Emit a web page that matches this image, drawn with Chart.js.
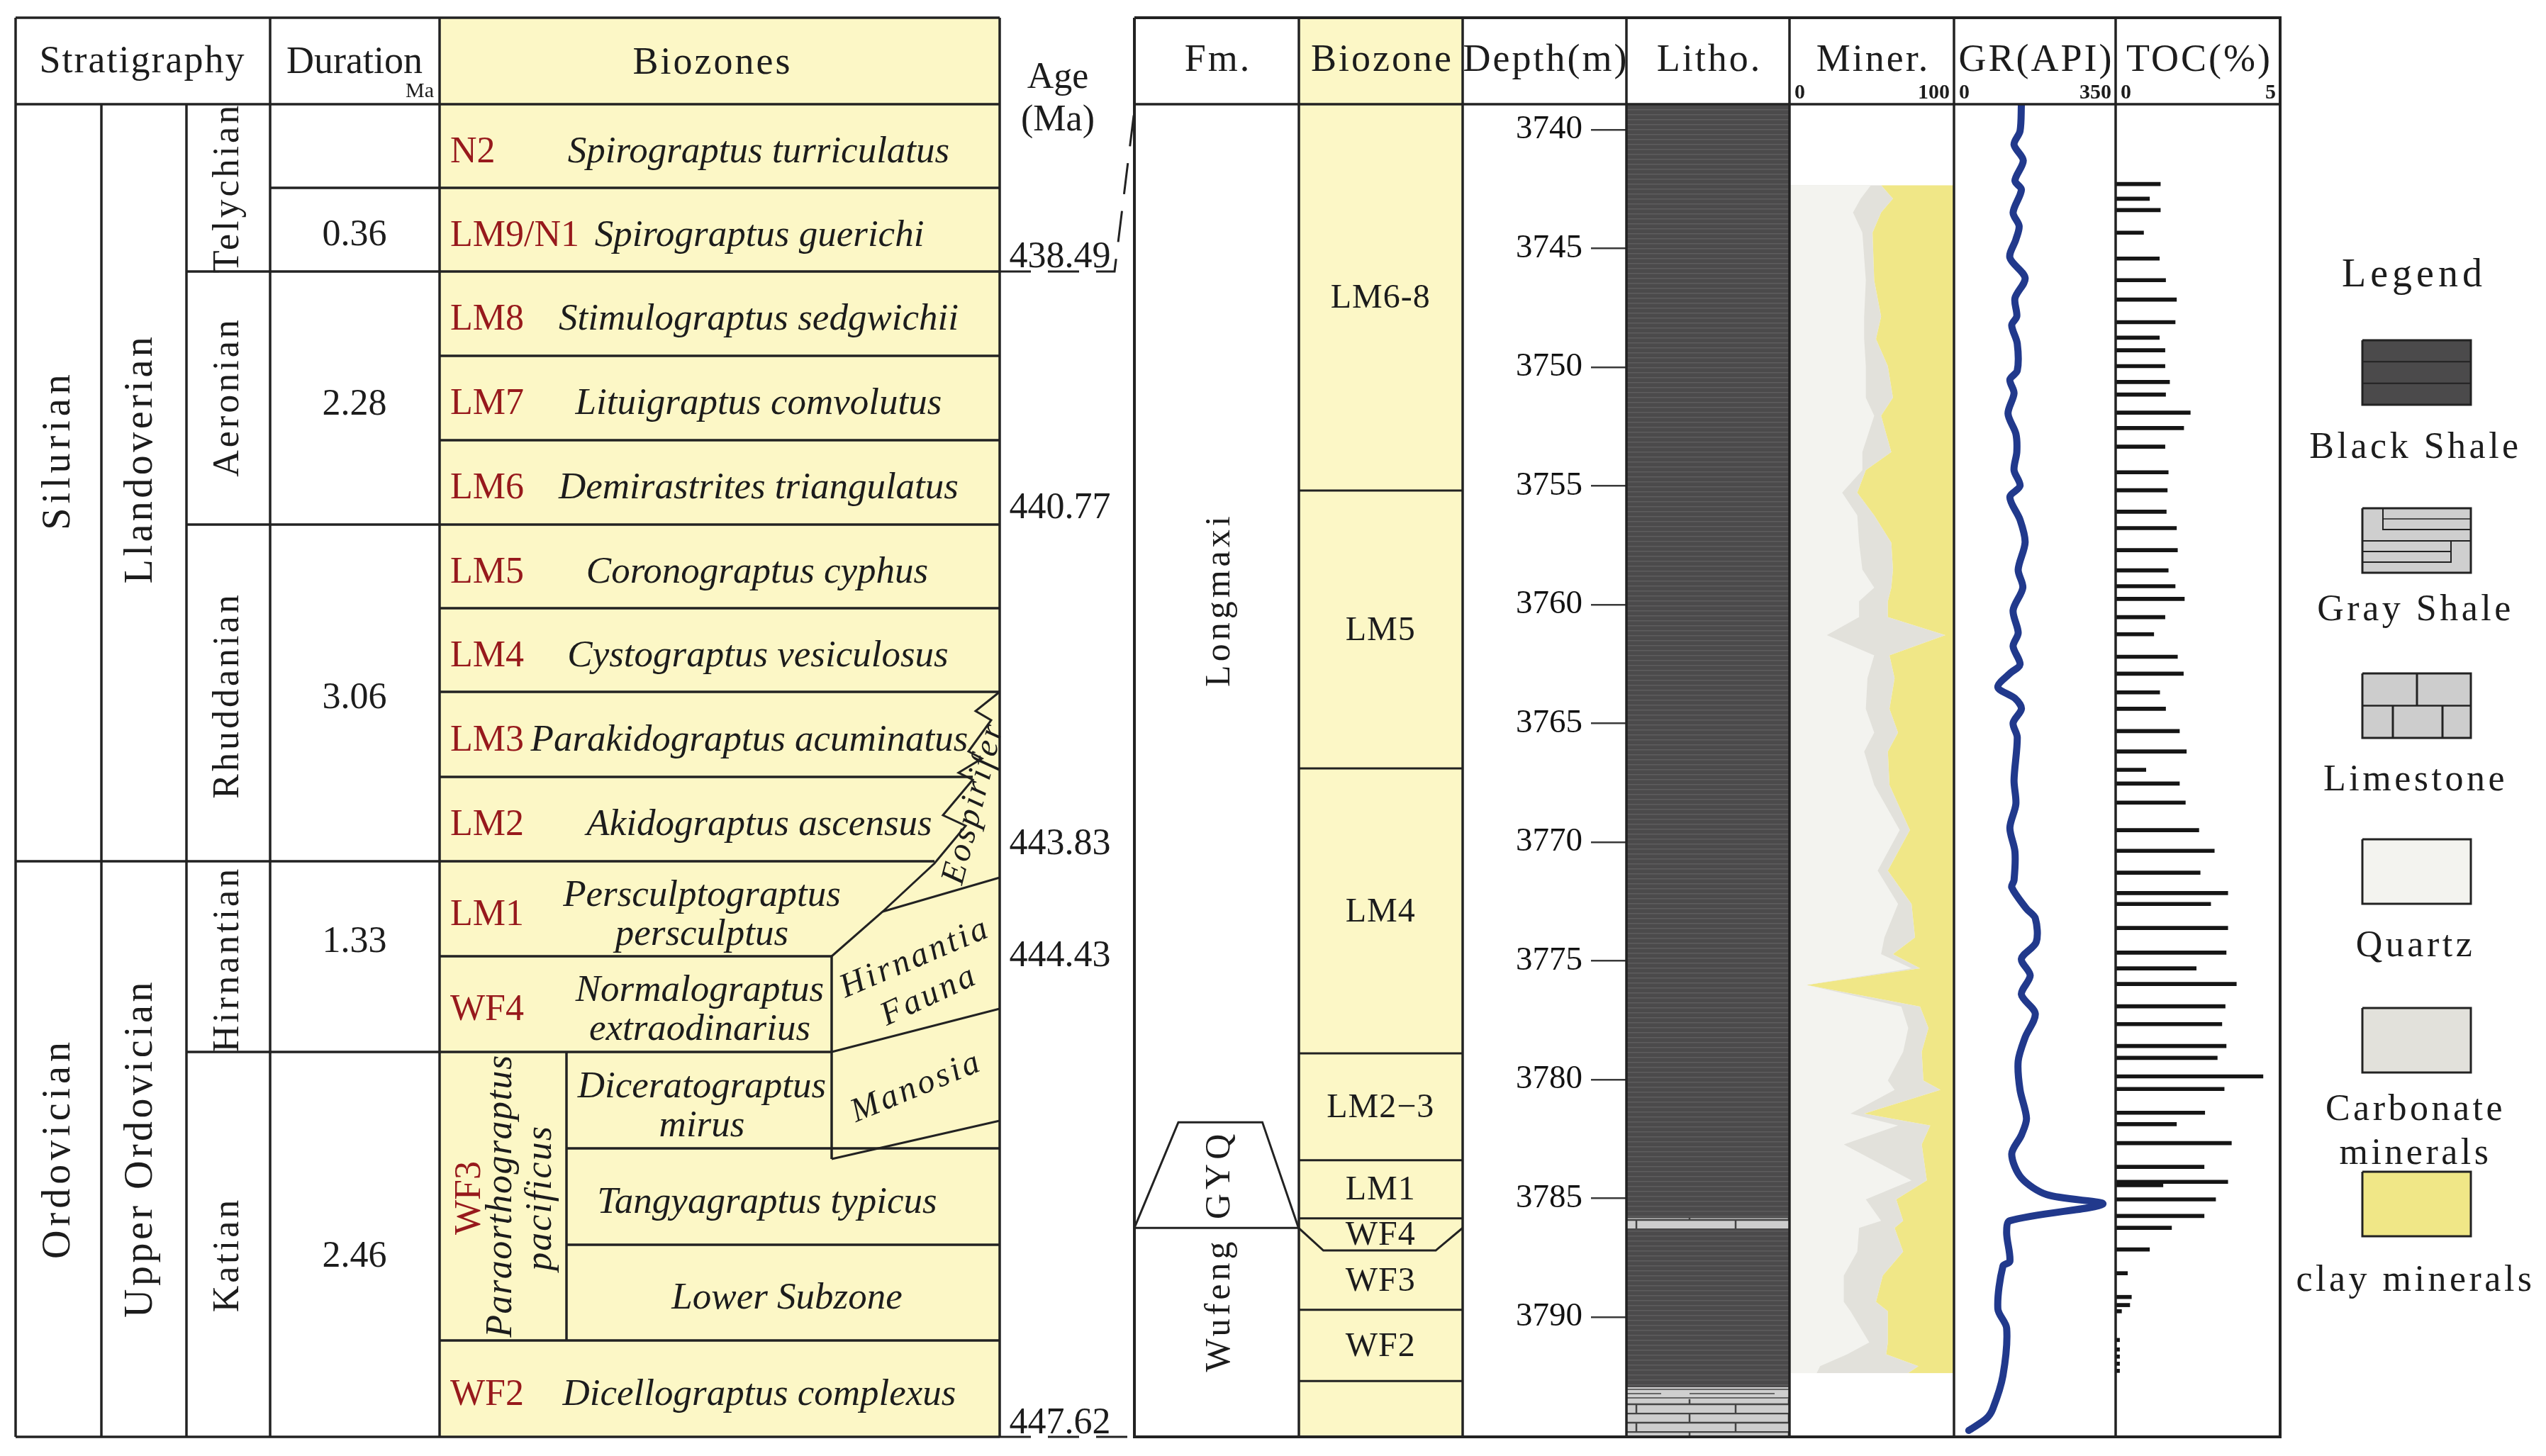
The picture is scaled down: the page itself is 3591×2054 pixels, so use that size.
<!DOCTYPE html>
<html>
<head>
<meta charset="utf-8">
<script src="https://cdn.jsdelivr.net/npm/chart.js@4.4.1/dist/chart.umd.min.js"></script>
<style>
html, body { margin: 0; padding: 0; background: #fff; }
#page { position: relative; width: 3591px; height: 2054px; overflow: hidden; }
canvas { position: absolute; }
</style>
</head>
<body>
<div id="page">
  <canvas id="bg" width="3591" height="2054" style="left:0;top:0"></canvas>
  <canvas id="zoneChart" width="463" height="1880" style="left:1600px;top:147px"></canvas>
  <canvas id="lithoChart" width="461" height="1880" style="left:2063px;top:147px"></canvas>
  <canvas id="minerChart" width="232" height="1880" style="left:2524px;top:147px"></canvas>
  <canvas id="grChart" width="228" height="1880" style="left:2756px;top:147px"></canvas>
  <canvas id="tocChart" width="232" height="1880" style="left:2984px;top:147px"></canvas>
  <canvas id="fg" width="3591" height="2054" style="left:0;top:0;pointer-events:none"></canvas>
</div>
<script>
// ---------- chronostratigraphy table (left) ----------
const systemNames = ['Silurian', 'Ordovician'];
const seriesNames = ['Llandoverian', 'Upper Ordovician'];
const stageNames = ['Telychian', 'Aeronian', 'Rhuddanian', 'Hirnantian', 'Katian'];
const durationLabels = ['0.36', '2.28', '3.06', '1.33', '2.46'];
const zoneCodes = ['N2', 'LM9/N1', 'LM8', 'LM7', 'LM6', 'LM5', 'LM4', 'LM3', 'LM2', 'LM1', 'WF4', '', '', '', 'WF2'];
const zoneTaxa = [
    ['Spirograptus turriculatus'], ['Spirograptus guerichi'], ['Stimulograptus sedgwichii'],
    ['Lituigraptus comvolutus'], ['Demirastrites triangulatus'], ['Coronograptus cyphus'],
    ['Cystograptus vesiculosus'], ['Parakidograptus acuminatus'], ['Akidograptus ascensus'],
    ['Persculptograptus', 'persculptus'], ['Normalograptus', 'extraodinarius'],
    ['Diceratograptus', 'mirus'], ['Tangyagraptus typicus'], ['Lower Subzone'],
    ['Dicellograptus complexus']
];
const wf3Labels = ['WF3', 'Paraorthograptus', 'pacificus'];
const ageLabels = ['438.49', '440.77', '443.83', '444.43', '447.62'];
const faunaNames = ['Eospirifer', 'Hirnantia', 'Fauna', 'Manosia'];

// ---------- well section (right) ----------
const depthMin = 3738.93, depthMax = 3795.05;
const depthTicks = [3740, 3745, 3750, 3755, 3760, 3765, 3770, 3775, 3780, 3785, 3790];

const fmNames = ['Longmaxi', 'Wufeng'];
const fmTop = [3738.93, 3786.25];
const fmBase = [3786.25, 3795.05];
const fmLabelDepth = [3759.8, 3789.5];
const gyqTop = 3781.8;
const gyqLabelDepth = 3784.0;

const bzNames = ['LM6-8', 'LM5', 'LM4', 'LM2\u22123', 'LM1', 'WF4', 'WF3', 'WF2', ''];
const bzTop = [3738.93, 3755.2, 3766.9, 3778.9, 3783.4, 3785.85, 3787.2, 3789.7, 3792.7];
const bzBase = [3755.2, 3766.9, 3778.9, 3783.4, 3785.85, 3787.2, 3789.7, 3792.7, 3795.05];

const lithoType = ['Black Shale', 'Limestone', 'Black Shale', 'Gray Shale', 'Limestone'];
const lithoTop = [3738.93, 3785.85, 3786.3, 3792.97, 3793.47];
const lithoBase = [3785.85, 3786.3, 3792.97, 3793.47, 3795.05];

// mineral composition (%), quartz + carbonate + clay = 100
const minerDepth = [3742.34, 3742.91, 3743.49, 3744.34, 3746.34, 3747.87, 3748.82, 3749.96, 3751.29, 3752.05,
    3753.58, 3754.34, 3755.29, 3756.24, 3757.39, 3758.53, 3759.29, 3759.86, 3760.53, 3761.29,
    3762.14, 3763.10, 3764.39, 3765.39, 3766.19, 3767.60, 3769.50, 3771.21, 3772.61, 3774.02,
    3774.72, 3775.32, 3776.02, 3776.93, 3777.83, 3778.83, 3780.04, 3780.44, 3781.44, 3781.94,
    3782.74, 3784.25, 3785.05, 3785.95, 3786.25, 3787.25, 3788.26, 3789.36, 3789.76, 3791.07,
    3791.57, 3792.07, 3792.37];
const quartzPct = [49.5, 43.3, 38.6, 44.3, 46.4, 45.4, 45.4, 46.4, 46.4, 51.5,
    44.3, 44.3, 32.0, 41.2, 42.3, 44.3, 51.5, 42.3, 42.3, 22.7,
    51.5, 47.4, 46.4, 51.5, 45.4, 51.5, 67.0, 53.6, 66.0, 57.7,
    55.7, 74.2, 10.3, 68.0, 72.2, 69.1, 59.8, 63.9, 37.1, 66.0,
    33.0, 74.2, 46.4, 55.7, 42.3, 41.2, 33.0, 33.0, 37.1, 48.5,
    35.1, 18.6, 16.5];
const carbonatePct = [6.2, 19.6, 17.1, 6.2, 5.1, 10.3, 7.2, 13.4, 16.5, 4.2,
    17.6, 2.1, 9.2, 10.3, 19.6, 18.6, 10.4, 17.5, 17.5, 72.1,
    9.3, 16.5, 14.4, 14.5, 14.4, 9.3, 6.2, 6.2, 8.2, 18.6,
    7.2, 5.2, 0.0, 11.4, 12.3, 11.3, 21.6, 27.9, 8.3, 19.6,
    47.4, 9.3, 18.5, 13.4, 21.6, 27.9, 23.7, 19.6, 22.7, 11.3,
    23.7, 59.8, 55.5];
const clayPct = [44.3, 37.1, 44.3, 49.5, 48.5, 44.3, 47.4, 40.2, 37.1, 44.3,
    38.1, 53.6, 58.8, 48.5, 38.1, 37.1, 38.1, 40.2, 40.2, 5.2,
    39.2, 36.1, 39.2, 34.0, 40.2, 39.2, 26.8, 40.2, 25.8, 23.7,
    37.1, 20.6, 89.7, 20.6, 15.5, 19.6, 18.6, 8.2, 54.6, 14.4,
    19.6, 16.5, 35.1, 30.9, 36.1, 30.9, 43.3, 47.4, 40.2, 40.2,
    41.2, 21.6, 28.0];

// gamma ray (API)
const grDepth = [3738.92, 3740.06, 3740.63, 3741.30, 3742.15, 3742.53, 3743.49, 3744.06, 3744.63, 3745.39,
    3746.25, 3747.10, 3747.86, 3748.24, 3749.01, 3750.15, 3750.53, 3751.10, 3751.96, 3752.81,
    3753.58, 3754.34, 3755.00, 3755.48, 3756.43, 3757.38, 3758.53, 3759.29, 3760.24, 3761.19,
    3761.76, 3762.52, 3762.90, 3763.48, 3763.95, 3764.39, 3764.99, 3765.59, 3767.40, 3768.40,
    3769.40, 3770.41, 3771.61, 3771.91, 3772.81, 3773.21, 3774.22, 3774.92, 3775.62, 3776.42,
    3777.23, 3778.23, 3779.23, 3780.44, 3781.64, 3782.34, 3783.14, 3784.15, 3784.85, 3785.25,
    3785.95, 3786.45, 3787.66, 3787.86, 3789.66, 3790.47, 3792.47, 3793.87, 3794.28, 3794.78];
const grValue = [146, 143, 130, 150, 132, 146, 128, 141, 134, 121,
    154, 132, 136, 125, 137, 137, 121, 130, 117, 134,
    136, 130, 143, 121, 143, 154, 139, 149, 128, 139,
    128, 143, 121, 95, 132, 146, 128, 137, 130, 134,
    121, 132, 130, 125, 157, 176, 178, 146, 165, 146,
    176, 154, 139, 143, 157, 146, 125, 146, 201, 322,
    121, 114, 121, 106, 95, 114, 106, 84, 70, 32];

// total organic carbon (%)
const tocDepth = [3742.29, 3742.91, 3743.39, 3744.34, 3745.43, 3746.34, 3747.16, 3748.11, 3748.76, 3749.29,
    3749.96, 3750.63, 3751.16, 3751.92, 3752.57, 3753.35, 3754.43, 3755.19, 3756.09, 3756.78,
    3757.71, 3758.56, 3759.23, 3759.76, 3760.53, 3761.25, 3762.20, 3762.91, 3763.70, 3764.39,
    3765.33, 3766.19, 3766.96, 3767.54, 3768.34, 3769.50, 3770.37, 3771.29, 3772.15, 3772.61,
    3773.62, 3774.66, 3775.32, 3775.98, 3776.92, 3777.67, 3778.59, 3779.09, 3779.87, 3780.40,
    3781.40, 3781.88, 3782.68, 3783.68, 3784.31, 3784.45, 3785.05, 3785.75, 3786.25, 3787.16,
    3788.16, 3789.16, 3789.50, 3789.76, 3790.97, 3791.37, 3791.67, 3791.97, 3792.27];
const tocValue = [1.36, 1.03, 1.36, 0.85, 1.33, 1.52, 1.85, 1.81, 1.33, 1.50,
    1.50, 1.64, 1.52, 2.27, 2.07, 1.50, 1.60, 1.57, 1.54, 1.85,
    1.88, 1.60, 1.81, 2.09, 1.50, 1.16, 1.88, 2.06, 1.34, 1.52,
    1.94, 2.15, 0.92, 1.94, 2.12, 2.53, 3.00, 2.57, 3.41, 2.89,
    3.41, 3.36, 2.45, 3.67, 3.33, 3.23, 3.36, 3.09, 4.48, 3.30,
    2.71, 1.85, 3.52, 2.69, 3.41, 1.44, 3.04, 2.69, 1.70, 1.03,
    0.36, 0.48, 0.43, 0.18, 0.12, 0.12, 0.12, 0.12, 0.12];

const legendNames = ['Black Shale', 'Gray Shale', 'Limestone', 'Quartz', 'Carbonate\nminerals', 'clay minerals'];

// ---------- colours ----------
const SERIF = '"Liberation Serif", "Times New Roman", serif';
const INK = '#1c1c1c';
const LINE = '#222222';
const ZONE_YELLOW = '#FCF7C6';
const CODE_RED = '#97191C';
const QUARTZ = '#F3F3EF';
const CARBONATE = '#E2E1DB';
const CLAY = '#F0E787';
const GR_BLUE = '#21398C';

Chart.defaults.font.family = SERIF;

// Function to write a (possibly rotated) label
function label(ctx, str, x, y, opt) {
    ctx.save();
    ctx.font = (opt.style || 'normal') + ' ' + opt.size + 'px ' + SERIF;
    ctx.fillStyle = opt.color || INK;
    ctx.textAlign = opt.align || 'center';
    ctx.textBaseline = 'middle';
    ctx.letterSpacing = (opt.spacing || 0) + 'px';
    ctx.translate(x, y);
    if (opt.rot) ctx.rotate(opt.rot * Math.PI / 180);
    ctx.fillText(str, 0, 0);
    ctx.restore();
}

function polyline(ctx, pts, width, dash) {
    ctx.save();
    ctx.strokeStyle = LINE;
    ctx.lineWidth = width || 3.5;
    ctx.lineJoin = 'miter';
    if (dash) ctx.setLineDash(dash);
    ctx.beginPath();
    pts.forEach((p, i) => i ? ctx.lineTo(p[0], p[1]) : ctx.moveTo(p[0], p[1]));
    ctx.stroke();
    ctx.restore();
}

// Function to build the lithology fill patterns
function lithoPattern(target, kind) {
    const c = document.createElement('canvas');
    const g = c.getContext('2d');
    if (kind === 'Black Shale') {
        c.width = 20; c.height = 7;
        g.fillStyle = '#4b4a4b'; g.fillRect(0, 0, 20, 7);
        g.fillStyle = '#5e5d5e'; g.fillRect(0, 0, 20, 1.5);
    } else if (kind === 'Gray Shale') {
        c.width = 160; c.height = 12;
        g.fillStyle = '#cfcfcf'; g.fillRect(0, 0, 160, 12);
        g.strokeStyle = '#444'; g.lineWidth = 1.5;
        g.beginPath();
        g.moveTo(0, 1); g.lineTo(160, 1);
        g.moveTo(0, 7); g.lineTo(120, 7);
        g.stroke();
    } else {
        c.width = 140; c.height = 26;
        g.fillStyle = '#cdcdcd'; g.fillRect(0, 0, 140, 26);
        g.strokeStyle = '#444'; g.lineWidth = 2.5;
        g.beginPath();
        g.moveTo(0, 1); g.lineTo(140, 1);
        g.moveTo(0, 14); g.lineTo(140, 14);
        g.moveTo(40, 1); g.lineTo(40, 14);
        g.moveTo(105, 14); g.lineTo(105, 26);
        g.stroke();
    }
    return target.createPattern(c, 'repeat');
}

// ---------- static frame: left table, headers, legend ----------
const bg = document.getElementById('bg').getContext('2d');
const fg = document.getElementById('fg').getContext('2d');

const T = { left: 22, top: 25, head: 147, bottom: 2027, xSeries: 143, xStage: 263, xDur: 381,
    xBio: 620, xWF3: 799, xFauna: 1173, right: 1410 };
const rowEdges = [147, 265, 383, 502, 621, 740, 858, 976, 1096, 1215, 1349, 1484, 1620, 1756, 1891, 2027];
const R = { left: 1600, right: 3216, cols: [1832, 2063, 2294, 2524, 2756, 2984] };

function drawFrame() {
    bg.fillStyle = '#fff';
    bg.fillRect(0, 0, 3591, 2054);
    // yellow biozone columns
    bg.fillStyle = ZONE_YELLOW;
    bg.fillRect(T.xBio, T.top, T.right - T.xBio, T.bottom - T.top);
    bg.fillRect(R.cols[0], T.top, R.cols[1] - R.cols[0], T.head - T.top);

    // headers
    label(bg, 'Stratigraphy', 201, 88, { size: 54, spacing: 2 });
    label(bg, 'Duration', 500, 89, { size: 54 });
    label(bg, 'Ma', 612, 129, { size: 30, align: 'right' });
    label(bg, 'Biozones', 1005, 90, { size: 54, spacing: 3 });
    label(bg, 'Age', 1492, 110, { size: 52 });
    label(bg, '(Ma)', 1492, 170, { size: 52 });

    const rHead = ['Fm.', 'Biozone', 'Depth(m)', 'Litho.', 'Miner.', 'GR(API)', 'TOC(%)'];
    const edges = [R.left].concat(R.cols, [R.right]);
    rHead.forEach((h, i) => {
        label(bg, h, (edges[i] + edges[i + 1]) / 2 + 2, 86, { size: 54, spacing: 3 });
    });
    const scaleEnds = [['0', '100'], ['0', '350'], ['0', '5']];
    scaleEnds.forEach((s, i) => {
        const l = edges[i + 4], r = edges[i + 5];
        label(bg, s[0], l + 7, 131, { size: 30, style: 'bold', align: 'left' });
        label(bg, s[1], r - 6, 131, { size: 30, style: 'bold', align: 'right' });
    });

    // stratigraphic units (rotated, reading upwards)
    [635, 1620].forEach((y, i) => label(bg, systemNames[i], 83, y, { size: 56, spacing: 6, rot: -90 }));
    [647, 1620].forEach((y, i) => label(bg, seriesNames[i], 199, y, { size: 56, spacing: 4.5, rot: -90 }));
    [265, 560, 981, 1353, 1770].forEach((y, i) => label(bg, stageNames[i], 322, y, { size: 52, spacing: 4, rot: -90 }));
    [332, 571, 985, 1329, 1773].forEach((y, i) => label(bg, durationLabels[i], 500, y, { size: 52 }));
    [363, 717, 1191, 1349, 2008].forEach((y, i) => label(bg, ageLabels[i], 1495, y, { size: 52 }));

    // graptolite biozones
    const taxaX = [1070, 1071, 1070, 1070, 1070, 1068, 1069, 1057, 1071, 990, 987, 990, 1082, 1110, 1071];
    zoneTaxa.forEach((lines, i) => {
        const yc = (rowEdges[i] + rowEdges[i + 1]) / 2 + 9;
        if (zoneCodes[i]) label(bg, zoneCodes[i], 635, yc, { size: 52, color: CODE_RED, align: 'left' });
        if (lines.length === 1) {
            label(bg, lines[0], taxaX[i], yc, { size: 53, style: 'italic' });
        } else {
            label(bg, lines[0], taxaX[i], yc - 27, { size: 53, style: 'italic' });
            label(bg, lines[1], taxaX[i], yc + 28, { size: 53, style: 'italic' });
        }
    });
    label(bg, wf3Labels[0], 663, 1690, { size: 52, color: CODE_RED, rot: -90 });
    label(bg, wf3Labels[1], 707, 1687, { size: 52, style: 'italic', spacing: 1.5, rot: -90 });
    label(bg, wf3Labels[2], 763, 1690, { size: 52, style: 'italic', spacing: 2, rot: -90 });

    // brachiopod faunas
    label(bg, faunaNames[0], 1374, 1133, { size: 48, style: 'italic', spacing: 4, rot: -75.5 });
    label(bg, faunaNames[1], 1291, 1352, { size: 48, style: 'italic', spacing: 4, rot: -23 });
    label(bg, faunaNames[2], 1311, 1405, { size: 48, style: 'italic', spacing: 4, rot: -25 });
    label(bg, faunaNames[3], 1293, 1534, { size: 48, style: 'italic', spacing: 4, rot: -22.5 });

    // table lines
    const hLines = [[T.top, T.left, T.right], [T.head, T.left, T.right], [T.bottom, T.left, T.right],
        [265, T.xDur, T.right], [383, T.xStage, T.right], [502, T.xBio, T.right], [621, T.xBio, T.right],
        [740, T.xStage, T.right], [858, T.xBio, T.right], [976, T.xBio, T.right], [1096, T.xBio, 1372],
        [1215, T.left, 1318], [1349, T.xBio, T.xFauna], [1484, T.xStage, T.xFauna],
        [1620, T.xWF3, T.right], [1756, T.xWF3, T.right], [1891, T.xBio, T.right]];
    hLines.forEach(h => polyline(fg, [[h[1], h[0]], [h[2], h[0]]]));
    const vLines = [[T.left, T.top, T.bottom], [T.xSeries, T.head, T.bottom], [T.xStage, T.head, T.bottom],
        [T.xDur, T.top, T.bottom], [T.xBio, T.top, T.bottom], [T.right, T.top, T.bottom],
        [T.xWF3, 1484, 1891], [T.xFauna, 1349, 1635]];
    vLines.forEach(v => polyline(fg, [[v[0], v[1]], [v[0], v[2]]]));
    // fauna boundaries
    polyline(fg, [[1410, 976], [1376, 1003], [1398, 1016], [1366, 1060], [1385, 1070], [1352, 1090],
        [1372, 1100], [1330, 1150], [1362, 1165], [1318, 1218], [1245, 1286], [1173, 1349]], 3);
    polyline(fg, [[1245, 1286], [1410, 1238]], 3);
    polyline(fg, [[1173, 1484], [1410, 1423]], 3);
    polyline(fg, [[1173, 1635], [1410, 1581]], 3);
    // age tie lines
    polyline(fg, [[1410, 383], [1572, 383], [1601, 147]], 3, [44, 24]);
    polyline(fg, [[1410, 2027], [1600, 2027]], 3, [44, 24]);

    // right panel frame
    polyline(fg, [[R.left, T.top], [R.right, T.top], [R.right, T.bottom], [R.left, T.bottom], [R.left, T.top]], 4);
    polyline(fg, [[R.left, T.head], [R.right, T.head]]);
    R.cols.forEach(x => polyline(fg, [[x, T.top], [x, T.bottom]]));

    // legend
    label(bg, 'Legend', 3405, 389, { size: 56, spacing: 6 });
    const swY = [480, 717, 950, 1184, 1422, 1653];
    const txtY = [632, 861, 1101, 1335, 1566, 1807];
    const swX = 3332, swW = 153, swH = 91;
    legendNames.forEach((name, i) => {
        const y = swY[i];
        const g = bg;
        g.save();
        if (i === 0) {
            g.fillStyle = '#4b4a4b'; g.fillRect(swX, y, swW, swH);
            polyline(g, [[swX, y + swH / 3], [swX + swW, y + swH / 3]], 2);
            polyline(g, [[swX, y + 2 * swH / 3], [swX + swW, y + 2 * swH / 3]], 2);
        } else if (i === 1) {
            g.fillStyle = '#cfcfcf'; g.fillRect(swX, y, swW, swH);
            polyline(g, [[swX + 29, y], [swX + 29, y + 30], [swX + swW, y + 30]], 2);
            polyline(g, [[swX + 29, y + 15], [swX + swW, y + 15]], 1.5);
            polyline(g, [[swX, y + 46], [swX + swW, y + 46]], 2);
            polyline(g, [[swX, y + 61], [swX + 125, y + 61], [swX + 125, y + 46]], 2);
            polyline(g, [[swX, y + 76], [swX + 125, y + 76], [swX + 125, y + 61]], 2);
        } else if (i === 2) {
            g.fillStyle = '#cdcdcd'; g.fillRect(swX, y, swW, swH);
            polyline(g, [[swX, y + swH / 2], [swX + swW, y + swH / 2]], 2.5);
            polyline(g, [[swX + 77, y], [swX + 77, y + swH / 2]], 3);
            polyline(g, [[swX + 43, y + swH / 2], [swX + 43, y + swH]], 3);
            polyline(g, [[swX + 113, y + swH / 2], [swX + 113, y + swH]], 3);
        } else {
            g.fillStyle = [QUARTZ, CARBONATE, CLAY][i - 3];
            g.fillRect(swX, y, swW, swH);
        }
        g.restore();
        polyline(g, [[swX, y], [swX + swW, y], [swX + swW, y + swH], [swX, y + swH], [swX, y]], 3);
        const parts = name.split('\n');
        parts.forEach((p, k) => label(bg, p, 3407, txtY[i] + k * 62, { size: 52, spacing: 4.5 }));
    });
}
drawFrame();

// ---------- charts sharing the depth axis ----------
function depthAxis() {
    return { type: 'linear', reverse: true, min: depthMin, max: depthMax, display: false,
        offset: false, grid: { offset: false } };
}
function baseOptions() {
    return {
        responsive: false, animation: false, devicePixelRatio: 1,
        layout: { padding: 0 },
        plugins: { legend: { display: false }, tooltip: { enabled: false } }
    };
}

// Fm. and Biozone columns, boundaries and labels drawn over the bars
const zonePlugin = {
    id: 'zoneMarks',
    afterDatasetsDraw(chart) {
        const ctx = chart.ctx, ys = chart.scales.y, xs = chart.scales.x;
        const colW = xs.width / 2;
        const fL = xs.left, fR = xs.left + colW, bL = fR, bR = xs.right;
        const yPx = d => ys.getPixelForValue(d);
        // Fm boundary and GYQ member
        polyline(ctx, [[fL, yPx(fmTop[1])], [fR, yPx(fmTop[1])]], 3);
        polyline(ctx, [[fL, yPx(fmTop[1])], [fL + 62, yPx(gyqTop)], [fR - 51, yPx(gyqTop)], [fR, yPx(fmTop[1])]], 3);
        fmNames.forEach((n, i) => label(ctx, n, (fL + fR) / 2 + 5, yPx(fmLabelDepth[i]), { size: 50, spacing: 5, rot: -90 }));
        label(ctx, 'GYQ', (fL + fR) / 2 + 5, yPx(gyqLabelDepth), { size: 50, spacing: 6, rot: -90 });
        // biozone boundaries
        for (let i = 1; i < bzNames.length; i++) {
            const y = yPx(bzTop[i]);
            if (bzNames[i] === 'WF3') {
                const ys0 = yPx(fmTop[1]);
                polyline(ctx, [[bL, ys0], [bL + 35, y], [bR - 38, y], [bR, ys0]], 3);
            } else {
                polyline(ctx, [[bL, y], [bR, y]], 3);
            }
        }
        bzNames.forEach((n, i) => {
            if (n) label(ctx, n, (bL + bR) / 2, yPx((bzTop[i] + bzBase[i]) / 2) + 2, { size: 48, spacing: 1 });
        });
    }
};

new Chart(document.getElementById('zoneChart'), {
    type: 'bar',
    data: {
        labels: ['Fm', 'Biozone'],
        datasets: [
            { data: fmNames.map((n, i) => ({ x: 'Fm', y: [fmTop[i], fmBase[i]] })), backgroundColor: '#ffffff' },
            { data: bzNames.map((n, i) => ({ x: 'Biozone', y: [bzTop[i], bzBase[i]] })), backgroundColor: ZONE_YELLOW }
        ]
    },
    options: Object.assign(baseOptions(), {
        datasets: { bar: { barPercentage: 1, categoryPercentage: 1, grouped: false, borderWidth: 0 } },
        scales: { x: { display: false }, y: depthAxis() }
    }),
    plugins: [zonePlugin]
});

// lithology column with the depth axis
const lithoCanvas = document.getElementById('lithoChart');
const lithoCtx = lithoCanvas.getContext('2d');
new Chart(lithoCanvas, {
    type: 'bar',
    data: {
        labels: ['Litho'],
        datasets: [{
            data: lithoType.map((t, i) => ({ x: 'Litho', y: [lithoTop[i], lithoBase[i]] })),
            backgroundColor: lithoType.map(t => lithoPattern(lithoCtx, t)),
            borderWidth: 0, barPercentage: 1, categoryPercentage: 1
        }]
    },
    options: Object.assign(baseOptions(), {
        scales: {
            x: { display: false },
            y: Object.assign(depthAxis(), {
                display: true,
                afterBuildTicks: s => { s.ticks = depthTicks.map(v => ({ value: v })); },
                afterFit: s => { s.width = 231; s.paddingTop = 0; s.paddingBottom = 0; },
                ticks: { callback: v => String(v), font: { size: 47, family: SERIF }, color: '#111', padding: 12 },
                grid: { drawOnChartArea: false, tickLength: 50, color: '#3a3a3a', lineWidth: 2.5 },
                border: { display: false }
            })
        }
    })
});

// mineral composition, stacked quartz / carbonate / clay
const quartzEdge = minerDepth.map((d, i) => ({ x: quartzPct[i], y: d }));
const carbonateEdge = minerDepth.map((d, i) => ({ x: quartzPct[i] + carbonatePct[i], y: d }));
const clayEdge = minerDepth.map((d, i) => ({ x: 100 - clayPct[i], y: d }));
new Chart(document.getElementById('minerChart'), {
    type: 'line',
    data: {
        datasets: [
            { label: 'Quartz', data: quartzEdge, fill: { value: 0 }, backgroundColor: QUARTZ, order: 1 },
            { label: 'clay minerals', data: clayEdge, fill: { value: 100 }, backgroundColor: CLAY, order: 2 },
            { label: 'Carbonate minerals', data: carbonateEdge, fill: { value: 0 }, backgroundColor: CARBONATE, order: 3 }
        ]
    },
    options: Object.assign(baseOptions(), {
        indexAxis: 'y',
        elements: { line: { borderWidth: 0, tension: 0 }, point: { radius: 0 } },
        scales: {
            x: { type: 'linear', min: 0, max: 100, display: false },
            y: depthAxis()
        }
    })
});

// gamma ray curve
new Chart(document.getElementById('grChart'), {
    type: 'line',
    data: {
        datasets: [{
            label: 'GR', data: grDepth.map((d, i) => ({ x: grValue[i], y: d })),
            borderColor: GR_BLUE, borderWidth: 10, tension: 0.3, fill: false,
            borderCapStyle: 'round', borderJoinStyle: 'round', pointRadius: 0
        }]
    },
    options: Object.assign(baseOptions(), {
        indexAxis: 'y',
        scales: {
            x: { type: 'linear', min: 0, max: 350, display: false },
            y: depthAxis()
        }
    })
});

// TOC bars
new Chart(document.getElementById('tocChart'), {
    type: 'bar',
    data: {
        datasets: [{
            label: 'TOC', data: tocDepth.map((d, i) => ({ x: tocValue[i], y: d })),
            backgroundColor: '#151515', barThickness: 5, borderWidth: 0
        }]
    },
    options: Object.assign(baseOptions(), {
        indexAxis: 'y',
        scales: {
            x: { type: 'linear', min: 0, max: 5, display: false },
            y: depthAxis()
        }
    })
});
</script>
</body>
</html>
